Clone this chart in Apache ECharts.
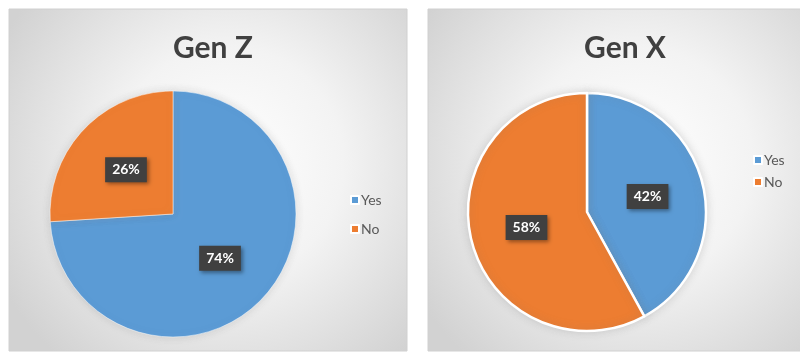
<!DOCTYPE html>
<html>
<head>
<meta charset="utf-8">
<script src="https://cdn.jsdelivr.net/npm/echarts@6/dist/echarts.min.js"></script>
<style>
  html, body { margin: 0; padding: 0; background: #fff; }
  #chart { width: 800px; height: 354px; }
</style>
</head>
<body>
<div id="chart"></div>
<script>
  var categories = ['Yes', 'No'];
  var genZValues = [74, 26];
  var genXValues = [42, 58];
  var titles = ['Gen Z', 'Gen X'];
  var colors = ['#5b9bd5', '#ed7d31'];

  var chart = echarts.init(document.getElementById('chart'));

  function panel(x, w) {
    return {
      type: 'rect',
      shape: { x: x, y: 9, width: w, height: 342 },
      style: {
        fill: {
          type: 'radial', x: 0.55, y: 0.45, r: 0.75,
          colorStops: [
            { offset: 0, color: '#ffffff' },
            { offset: 0.45, color: '#f3f3f3' },
            { offset: 1, color: '#d2d2d2' }
          ]
        },
        stroke: '#d0d0d0',
        lineWidth: 1
      },
      z: -10
    };
  }

  function makeSeries(name, values, center, radius, border) {
    return {
      name: name,
      type: 'pie',
      center: center,
      radius: radius,
      startAngle: 90,
      clockwise: true,
      silent: true,
      data: categories.map(function (c, i) {
        return { name: c, value: values[i] };
      }),
      itemStyle: {
        borderColor: '#ffffff',
        borderWidth: border,
        shadowBlur: 8,
        shadowColor: 'rgba(120,120,120,0.25)'
      },
      label: {
        show: true,
        position: 'inside',
        formatter: '{c}%',
        color: '#ffffff',
        fontFamily: 'Lato',
        fontWeight: 'bold',
        fontSize: 14,
        backgroundColor: '#404040',
        padding: [6, 7, 5, 7],
        shadowBlur: 4,
        shadowColor: 'rgba(0,0,0,0.4)',
        shadowOffsetX: 2,
        shadowOffsetY: 2
      },
      labelLine: { show: false }
    };
  }

  function makeLegend(left, top, gap) {
    return {
      orient: 'vertical',
      left: left,
      top: top,
      itemWidth: 8,
      itemHeight: 8,
      itemGap: gap,
      icon: 'rect',
      selectedMode: false,
      data: categories,
      textStyle: { color: '#595959', fontSize: 14, fontFamily: 'Lato', padding: [0, 0, 0, -3] }
    };
  }

  var option = {
    color: colors,
    animation: false,
    graphic: [panel(9, 398), panel(428, 380)],
    title: [
      {
        text: titles[0], left: 208, top: 28, textAlign: 'center',
        textStyle: { fontFamily: 'Lato', fontWeight: 'bold', fontSize: 30, color: '#404040' }
      },
      {
        text: titles[1], left: 620, top: 28, textAlign: 'center',
        textStyle: { fontFamily: 'Lato', fontWeight: 'bold', fontSize: 30, color: '#404040' }
      }
    ],
    legend: [
      makeLegend(345, 188, 15),
      makeLegend(748, 148, 8)
    ],
    series: [
      makeSeries(titles[0], genZValues, [173, 214], 123, 0.5),
      makeSeries(titles[1], genXValues, [587, 212], 119, 2.5)
    ]
  };

  chart.setOption(option);
</script>
</body>
</html>
